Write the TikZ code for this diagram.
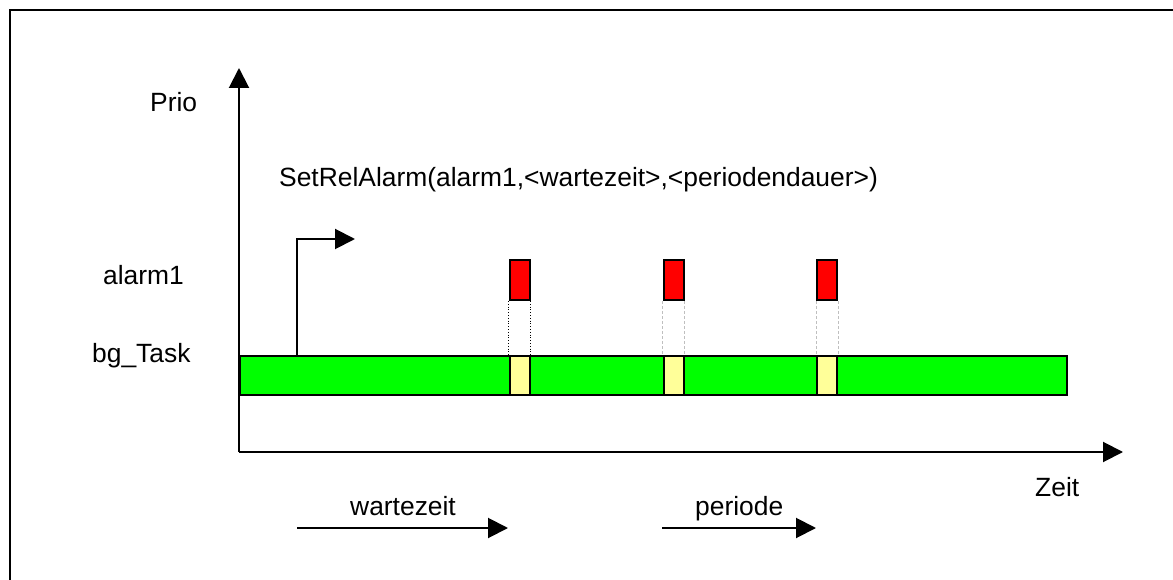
\documentclass[tikz,border=0pt]{standalone}
\usepackage{fontspec}
\setmainfont{Liberation Sans}
\usetikzlibrary{arrows.meta}
\definecolor{taskgreen}{HTML}{00FF00}
\definecolor{alarmred}{HTML}{FF0000}
\definecolor{slotyellow}{HTML}{FFFF99}
\tikzset{
  lbl/.style={anchor=base west, inner sep=0pt, font=\fontsize{26.4}{31}\selectfont},
  axis/.style={line width=2pt, -{Triangle[length=20pt,width=20pt]}},
  arr/.style={line width=2pt, -{Triangle[length=20pt,width=20pt]}},
  boxbase/.style={draw=black, line width=2pt, inner sep=0pt, anchor=north west},
  taskbar/.style={boxbase, fill=taskgreen, minimum width=827pt, minimum height=39pt},
  alarmbox/.style={boxbase, fill=alarmred, minimum width=20pt, minimum height=40pt},
  slotbox/.style={boxbase, fill=slotyellow, minimum width=20pt, minimum height=39pt},
  guide/.style={line width=0.8pt, dotted, black},
  guidegray/.style={line width=0.8pt, dashed, dash pattern=on 3pt off 2pt, gray!50},
}
\begin{document}
\begin{tikzpicture}[x=1pt, y=-1pt]
  \useasboundingbox (0,0) rectangle (1173,580);
  \fill[white] (0,0) rectangle (1173,580);
  % outer frame (left and top edges)
  \draw[line width=2pt] (9.5,580) -- (9.5,10) -- (1173,10);

  % axes
  \coordinate (origin) at (239,452);
  \coordinate (ytip) at (239,68);
  \coordinate (xtip) at (1123,452);
  \draw[axis] (origin) -- (ytip);
  \draw[axis] (origin) -- (xtip);

  % background task bar
  \node[taskbar] (bg) at (239,355) {};

  % alarm activations and the slots they take from bg_Task
  \foreach \i/\x in {1/508.5, 2/662.5, 3/816} {
    \node[alarmbox] (a\i) at (\x,259) {};
    \node[slotbox] (s\i) at (\x,355) {};
  }
  \draw[guide] (a1.south west) -- (s1.north west);
  \draw[guide] (a1.south east) -- (s1.north east);
  \foreach \i in {2,3} {
    \draw[guidegray] (a\i.south west) -- (s\i.north west);
    \draw[guidegray] (a\i.south east) -- (s\i.north east);
  }

  % call of SetRelAlarm
  \coordinate (callfoot) at (297,355);
  \coordinate (callbend) at (297,239);
  \coordinate (calltip) at (355,239);
  \draw[arr] (callfoot) -- (callbend) -- (calltip);

  % labels
  \node[lbl] (prio) at (150,112) {Prio};
  \node[lbl] (call) at (279,187) {SetRelAlarm(alarm1,<wartezeit>,<periodendauer>)};
  \node[lbl] (alarm) at (103,284) {alarm1};
  \node[lbl] (task) at (92,362) {bg\_Task};
  \node[lbl] (zeit) at (1035,496) {Zeit};
  \node[lbl] (wz) at (350,515) {wartezeit};
  \node[lbl] (per) at (695,515) {periode};

  % interval arrows
  \coordinate (wzA) at (297,528);
  \coordinate (wzB) at (508,528);
  \coordinate (perA) at (662,528);
  \coordinate (perB) at (816,528);
  \draw[arr] (wzA) -- (wzB);
  \draw[arr] (perA) -- (perB);
\end{tikzpicture}
\end{document}
